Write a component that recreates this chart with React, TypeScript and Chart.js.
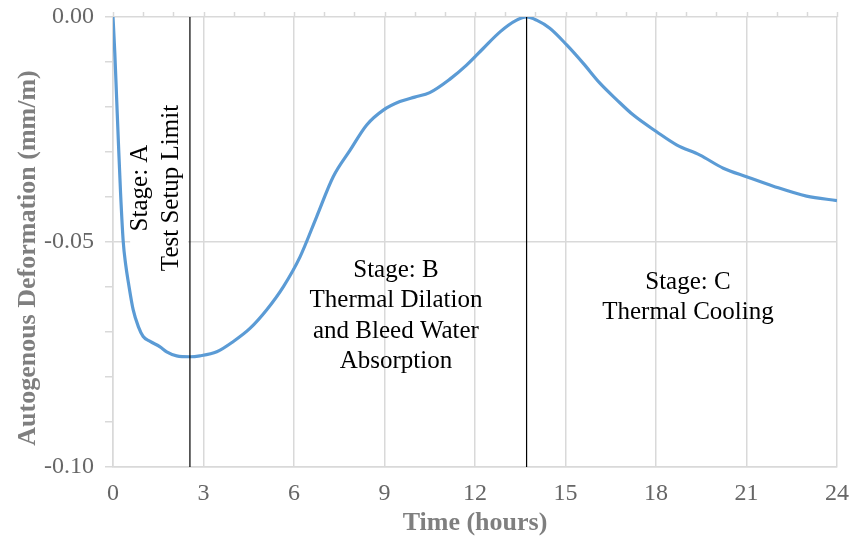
import React, { useEffect, useRef } from "react";
import { Chart, registerables } from "chart.js";

Chart.register(...registerables);

// Measured autogenous deformation over the first 24 hours
const timeHours = [
  0, 0.06, 0.12, 0.18, 0.25, 0.34, 0.42, 0.51, 0.67, 0.84, 1.0, 1.23, 1.56, 1.78, 2.11, 2.55,
  2.88, 3.44, 3.99, 4.54, 5.09, 5.65, 6.2, 6.75, 7.3, 7.86, 8.41, 8.96, 9.51, 10.0, 10.5,
  11.17, 11.72, 12.27, 12.83, 13.38, 13.71, 14.04, 14.48, 15.04, 15.59, 16.14, 16.7, 17.25,
  18.02, 18.68, 19.46, 20.23, 21.0, 21.89, 22.99, 24.0,
];
const deformation = [
  0, -0.008, -0.018, -0.028, -0.039, -0.05, -0.055, -0.059, -0.0651, -0.0688, -0.071, -0.0721,
  -0.0733, -0.0744, -0.0753, -0.0755, -0.0753, -0.0744, -0.0721, -0.0692, -0.0651, -0.0599,
  -0.0533, -0.0444, -0.0355, -0.0296, -0.024, -0.0207, -0.0188, -0.0178, -0.0168, -0.0138,
  -0.0107, -0.007, -0.0033, -0.0007, 0, -0.0007, -0.0025, -0.0062, -0.0103, -0.0147, -0.0184,
  -0.0218, -0.0255, -0.0284, -0.0307, -0.0336, -0.0355, -0.0376, -0.0398, -0.0408,
];

// Stage boundaries (hours)
const setupLimitHours = 2.55;
const peakHours = 13.71;

// Axis ranges and ticks
const xMin = 0;
const xMax = 24;
const xMajorStep = 3;
const xMinorStep = 1;
const yMin = -0.1;
const yMax = 0;
const yMinorStep = 0.01;
const yMajorStep = 0.05;

const xTitle = "Time (hours)";
const yTitle = "Autogenous Deformation (mm/m)";

// Stage labels: anchors in hours / deformation
const stageALines = ["Stage: A", "Test Setup Limit"];
const stageAColumnsHours = [0.9, 1.95];
const stageAValue = -0.038;
const stageBLines = ["Stage: B", "Thermal Dilation", "and Bleed Water", "Absorption"];
const stageBAnchor = [9.38, -0.0664];
const stageCLines = ["Stage: C", "Thermal Cooling"];
const stageCAnchor = [19.06, -0.0623];

const SERIF = '"Liberation Serif", "Times New Roman", serif';
const GRID = "#d9d9d9";
const CURVE = "#5b9bd5";

const decorations = {
  id: "decorations",
  beforeDatasetsDraw(chart: any) {
    const { ctx, chartArea, scales } = chart;
    const xs = scales.x;
    const ys = scales.y;
    ctx.save();

    // minor ticks above the top edge
    ctx.strokeStyle = GRID;
    ctx.lineWidth = 1.5;
    for (let h = xMin; h <= xMax + 1e-9; h += xMinorStep) {
      const px = Math.round(xs.getPixelForValue(h)) + 0.5;
      ctx.beginPath();
      ctx.moveTo(px, chartArea.top - 5);
      ctx.lineTo(px, chartArea.top);
      ctx.stroke();
    }

    // stage A: white text box with two rotated lines
    const aTop = chartArea.top + 75;
    const aBottom = chartArea.top + 265;
    const aLeft = xs.getPixelForValue(stageAColumnsHours[0]) - 10;
    const aRight = xs.getPixelForValue(setupLimitHours) - 2;
    ctx.fillStyle = "#ffffff";
    ctx.fillRect(aLeft, aTop, aRight - aLeft, aBottom - aTop);

    ctx.fillStyle = "#000000";
    ctx.font = `25px ${SERIF}`;
    ctx.textAlign = "center";
    ctx.textBaseline = "middle";
    const aY = ys.getPixelForValue(stageAValue);
    stageALines.forEach((line, i) => {
      ctx.save();
      ctx.translate(xs.getPixelForValue(stageAColumnsHours[i]), aY);
      ctx.rotate(-Math.PI / 2);
      ctx.fillText(line, 0, 0);
      ctx.restore();
    });

    const drawBlock = (lines: string[], anchor: number[]) => {
      const cx = xs.getPixelForValue(anchor[0]);
      const cy = ys.getPixelForValue(anchor[1]);
      const lh = 30.5;
      lines.forEach((line, i) => {
        ctx.fillText(line, cx, cy + (i - (lines.length - 1) / 2) * lh);
      });
    };
    drawBlock(stageBLines, stageBAnchor);
    drawBlock(stageCLines, stageCAnchor);

    // axis titles
    ctx.fillStyle = "#7f7f7f";
    ctx.font = `bold 26px ${SERIF}`;
    ctx.fillText(xTitle, (chartArea.left + chartArea.right) / 2, chartArea.bottom + 56);
    ctx.save();
    ctx.translate(28, (chartArea.top + chartArea.bottom) / 2 + 16);
    ctx.rotate(-Math.PI / 2);
    ctx.fillText(yTitle, 0, 0);
    ctx.restore();

    ctx.restore();
  },
};

const isMajorY = (v: number) => Math.abs(Math.round(v * 100)) % Math.round(yMajorStep * 100) === 0;

export default function App() {
  const canvasRef = useRef<HTMLCanvasElement | null>(null);

  useEffect(() => {
    if (!canvasRef.current) return;
    const chart = new Chart(canvasRef.current, {
      type: "line",
      data: {
        datasets: [
          {
            data: [
              { x: setupLimitHours, y: yMax },
              { x: setupLimitHours, y: yMin },
            ],
            borderColor: "#000000",
            borderWidth: 1.2,
            pointRadius: 0,
            order: 0,
          },
          {
            data: [
              { x: peakHours, y: yMax },
              { x: peakHours, y: yMin - 0.001 },
            ],
            borderColor: "#000000",
            borderWidth: 1.2,
            pointRadius: 0,
            order: 0,
          },
          {
            data: timeHours.map((t, i) => ({ x: t, y: deformation[i] })),
            borderColor: CURVE,
            borderWidth: 3.2,
            pointRadius: 0,
            cubicInterpolationMode: "monotone",
            order: 1,
          },
        ],
      },
      options: {
        animation: false,
        responsive: true,
        maintainAspectRatio: false,
        layout: { padding: { left: 0, top: 17, right: 13, bottom: 0 } },
        plugins: { legend: { display: false }, tooltip: { enabled: false } },
        scales: {
          x: {
            type: "linear",
            min: xMin,
            max: xMax,
            afterFit: (s: any) => {
              s.height = 72;
              s.paddingLeft = 0;
              s.paddingRight = 0;
            },
            ticks: {
              stepSize: xMajorStep,
              color: "#666666",
              font: { family: SERIF, size: 24 },
              padding: 12,
              maxRotation: 0,
            },
            grid: { color: GRID, lineWidth: 1.5, drawTicks: false },
            border: { color: GRID, width: 1.5 },
          },
          y: {
            min: yMin,
            max: yMax,
            afterFit: (s: any) => {
              s.width = 113;
              s.paddingTop = 0;
              s.paddingBottom = 0;
            },
            ticks: {
              stepSize: yMinorStep,
              autoSkip: false,
              color: "#666666",
              font: { family: SERIF, size: 24 },
              padding: 11,
              callback: (value: any) => {
                const v = Number(value);
                if (!isMajorY(v)) return "";
                const r = Math.round(v * 100) / 100;
                return r === 0 ? "0.00" : r.toFixed(2);
              },
            },
            grid: {
              color: (c: any) => (isMajorY(c.tick.value) ? GRID : "rgba(0,0,0,0)"),
              tickColor: GRID,
              lineWidth: 1.5,
              tickLength: 8,
            },
            border: { color: GRID, width: 1.5 },
          },
        },
      },
      plugins: [decorations],
    });
    return () => chart.destroy();
  }, []);

  return (
    <div style={{ position: "absolute", left: 0, top: 0, width: 850, height: 539, background: "#ffffff" }}>
      <canvas ref={canvasRef} />
    </div>
  );
}
